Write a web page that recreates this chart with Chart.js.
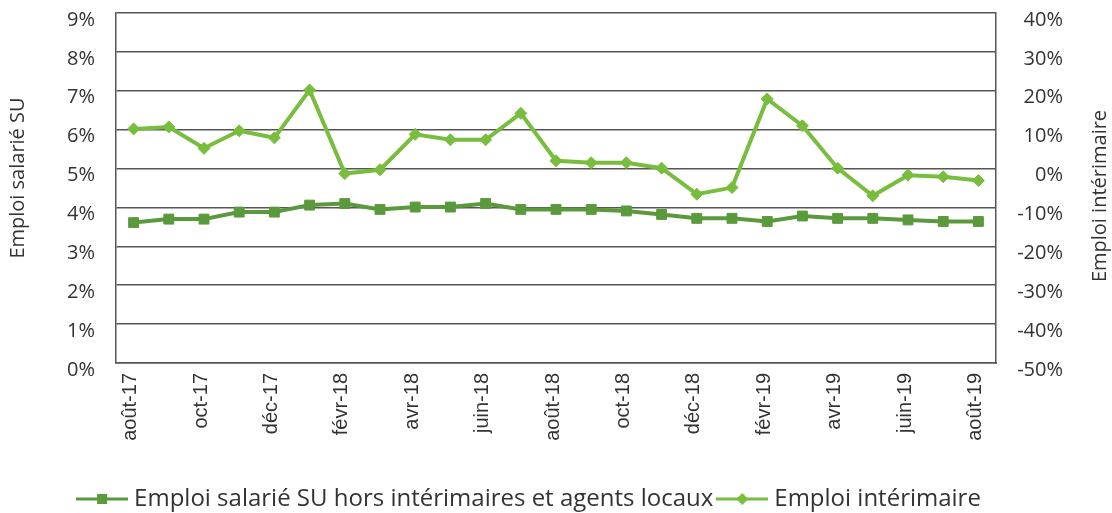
<!DOCTYPE html>
<html><head><meta charset="utf-8">
<script src="https://cdn.jsdelivr.net/npm/chart.js@4/dist/chart.umd.min.js"></script>
<style>html,body{margin:0;padding:0;background:#fff}#wrap{width:1112px;height:513px}</style>
</head><body><div id="wrap"><canvas id="c" width="1112" height="513"></canvas></div>
<script>
const categories = ['août-17','sept-17','oct-17','nov-17','déc-17','janv-18','févr-18','mars-18','avr-18','mai-18','juin-18','juil-18','août-18','sept-18','oct-18','nov-18','déc-18','janv-19','févr-19','mars-19','avr-19','mai-19','juin-19','juil-19','août-19'];
const emploiSalarieSU = [3.61,3.70,3.70,3.88,3.88,4.06,4.10,3.95,4.01,4.01,4.10,3.95,3.95,3.95,3.91,3.82,3.72,3.72,3.64,3.78,3.72,3.72,3.68,3.64,3.64];
const emploiInterimaire = [10.2,10.7,5.2,9.7,7.9,20.2,-1.3,-0.3,8.8,7.4,7.4,14.2,2.0,1.5,1.5,0.1,-6.6,-4.9,17.9,11.0,0.1,-7.0,-1.7,-2.1,-3.1];
const leftTicks = [0,1,2,3,4,5,6,7,8,9];
const rightTicks = [-50,-40,-30,-20,-10,0,10,20,30,40];
const seriesNames = ['Emploi salarié SU hors intérimaires et agents locaux','Emploi intérimaire'];
const axisTitles = ['Emploi salarié SU','Emploi intérimaire'];

const DARK = '#5b9a3c', LIGHT = '#78bd3d', TXT = '#333333', GRID = '#555555';
const FONT = '"Open Sans", sans-serif';
const XFONT = '"Liberation Sans", Arial, sans-serif';

function legendIcon(color, style){
  const cv = document.createElement('canvas'); cv.width = 52; cv.height = 16;
  const g = cv.getContext('2d');
  g.strokeStyle = color; g.lineWidth = 3;
  g.beginPath(); g.moveTo(0,8); g.lineTo(52,8); g.stroke();
  g.fillStyle = color;
  if(style==='rect'){ g.fillRect(21,3,10,10); }
  else { g.beginPath(); g.moveTo(26,2); g.lineTo(32,8); g.lineTo(26,14); g.lineTo(20,8); g.closePath(); g.fill(); }
  return cv;
}
const icons = [legendIcon(DARK,'rect'), legendIcon(LIGHT,'diamond')];

const titlePlugin = {
  id:'axisTitles',
  afterDraw(chart){
    const {ctx, chartArea:a} = chart;
    const cy = (a.top + a.bottom)/2;
    ctx.save();
    ctx.fillStyle = TXT; ctx.font = '20px ' + FONT;
    ctx.textAlign = 'center'; ctx.textBaseline = 'middle';
    ctx.translate(18, cy - 10); ctx.rotate(-Math.PI/2); ctx.fillText(axisTitles[0], 0, 0);
    ctx.restore();
    ctx.save();
    ctx.fillStyle = TXT; ctx.font = '20px ' + FONT;
    ctx.textAlign = 'center'; ctx.textBaseline = 'middle';
    ctx.translate(1100, cy + 8); ctx.rotate(-Math.PI/2); ctx.fillText(axisTitles[1], 0, 0);
    ctx.restore();
  }
};

new Chart(document.getElementById('c'), {
  type:'line',
  data:{
    labels: categories,
    datasets:[
      {label: seriesNames[0], data: emploiSalarieSU, yAxisID:'y', borderColor: DARK, backgroundColor: DARK,
       borderWidth: 4, pointStyle:'rect', pointRadius: 7, pointBorderWidth: 1, tension: 0},
      {label: seriesNames[1], data: emploiInterimaire, yAxisID:'y1', borderColor: LIGHT, backgroundColor: LIGHT,
       borderWidth: 4, pointStyle:'rectRot', pointRadius: 6, pointBorderWidth: 1, tension: 0}
    ]
  },
  options:{
    responsive:false, animation:false, devicePixelRatio:1,
    layout:{padding:{top:13, left:0, right:49, bottom:-8}},
    plugins:{
      tooltip:{enabled:false},
      legend:{position:'bottom', align:'center',
        labels:{usePointStyle:true, pointStyleWidth:40, color:TXT, font:{family:FONT, size:24}, padding:9,
          generateLabels(chart){
            return chart.data.datasets.map((d,i)=>({text:d.label, pointStyle:icons[i], fillStyle:d.borderColor,
              strokeStyle:d.borderColor, lineWidth:0, hidden:false, datasetIndex:i, fontColor:TXT}));
          }}}
    },
    scales:{
      x:{offset:true, grid:{display:false, drawTicks:false}, border:{display:true, color:GRID, width:1.5},
         ticks:{autoSkip:false, maxRotation:90, minRotation:90, padding:10, labelOffset:-3, color:TXT, font:{family:XFONT, size:20},
           callback(v,i){ return i%2===0 ? categories[i] : ''; }},
         afterFit(s){ s.height = 115; }},
      y:{position:'left', min:0, max:9, afterBuildTicks(s){ s.ticks = leftTicks.map(v=>({value:v})); },
         grid:{color:GRID, lineWidth:1.5, drawTicks:false}, border:{display:true, color:GRID, width:1.5},
         ticks:{padding:21, labelOffset:7, color:TXT, font:{family:FONT, size:20}, callback:v=>v+'%'},
         afterFit(s){ s.width = 116; s.paddingTop = 0; s.paddingBottom = 0; }},
      y1:{position:'right', min:-50, max:40, afterBuildTicks(s){ s.ticks = rightTicks.map(v=>({value:v})); },
         grid:{drawOnChartArea:false, drawTicks:false}, border:{display:true, color:GRID, width:1.5},
         ticks:{padding:14, labelOffset:7, crossAlign:'far', color:TXT, font:{family:FONT, size:20}, callback:v=>v+'%'},
         afterFit(s){ s.width = 67; s.paddingTop = 0; s.paddingBottom = 0; }}
    }
  },
  plugins:[titlePlugin]
});
</script></body></html>
